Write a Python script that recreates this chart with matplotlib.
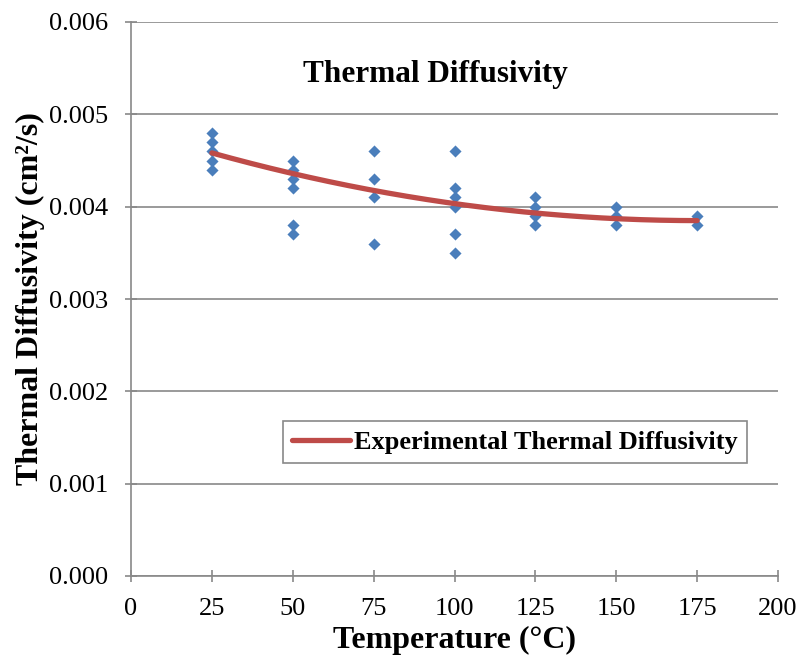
import matplotlib.pyplot as plt
import numpy as np

plt.rcParams["font.family"] = ["Liberation Serif", "DejaVu Serif"]

# measured points
temp_pts = [25, 25, 25, 25, 25,
            50, 50, 50, 50, 50, 50,
            75, 75, 75, 75,
            100, 100, 100, 100, 100, 100,
            125, 125, 125, 125,
            150, 150, 150,
            175, 175]
diff_pts = [0.0048, 0.0047, 0.0046, 0.0045, 0.0044,
            0.0045, 0.0044, 0.0043, 0.0042, 0.0038, 0.0037,
            0.0046, 0.0043, 0.0041, 0.0036,
            0.0046, 0.0042, 0.0041, 0.0040, 0.0037, 0.0035,
            0.0041, 0.0040, 0.0039, 0.0038,
            0.0040, 0.0039, 0.0038,
            0.0039, 0.0038]

# experimental curve
curve_t = [25, 50, 75, 100, 125, 150, 175]
curve_d = [0.00458, 0.00436, 0.00418, 0.00403, 0.00393, 0.00387, 0.00385]

fig = plt.figure(figsize=(7.99, 6.56), dpi=100)
ax = fig.add_axes([131 / 799, 1 - 576 / 656, (778 - 131) / 799, (576 - 22) / 656])

ax.scatter(temp_pts, diff_pts, marker="D", s=38, color="#4A7EBB", zorder=3,
           linewidths=0)

# smooth the curve for display
coef = np.polyfit(curve_t, curve_d, 2)
tt = np.linspace(curve_t[0], curve_t[-1], 200)
ax.plot(tt, np.polyval(coef, tt), color="#BE4B48", lw=3.8, zorder=4,
        solid_capstyle="round", label="Experimental Thermal Diffusivity")

ax.set_xlim(0, 200)
ax.set_ylim(0, 0.006)
ax.set_xticks(range(0, 201, 25))
ax.set_yticks(np.arange(0, 0.0061, 0.001))
ax.set_yticklabels(["%.3f" % v for v in np.arange(0, 0.0061, 0.001)])
ax.grid(axis="y", color="#898989", lw=1.2)
ax.set_axisbelow(True)
for s in ["top", "right"]:
    ax.spines[s].set_visible(False)
for s in ["left", "bottom"]:
    ax.spines[s].set_color("#898989")
    ax.spines[s].set_linewidth(1.2)
ax.tick_params(labelsize=19, color="#898989", length=8, width=1.2,
               direction="inout")
ax.tick_params(axis="x", pad=12)
ax.tick_params(axis="y", pad=12.5)

ax.set_xlabel("Temperature (°C)", fontsize=23, fontweight="bold", labelpad=4)
ax.set_ylabel("Thermal Diffusivity (cm²/s)", fontsize=23, fontweight="bold",
              labelpad=3)
ax.text(0.47, 0.905, "Thermal Diffusivity", transform=ax.transAxes,
        ha="center", va="center", fontsize=22.5, fontweight="bold")

leg = ax.legend(loc="center", bbox_to_anchor=((515 - 131) / 647, (576 - 442) / 554),
                prop={"size": 19, "weight": "bold"}, fancybox=False,
                handlelength=2.2, handletextpad=0.15, borderpad=0.35,
                borderaxespad=0, framealpha=1)
leg.get_frame().set_edgecolor("#898989")
leg.get_frame().set_linewidth(1.2)

fig.savefig("out.png", dpi=100)
